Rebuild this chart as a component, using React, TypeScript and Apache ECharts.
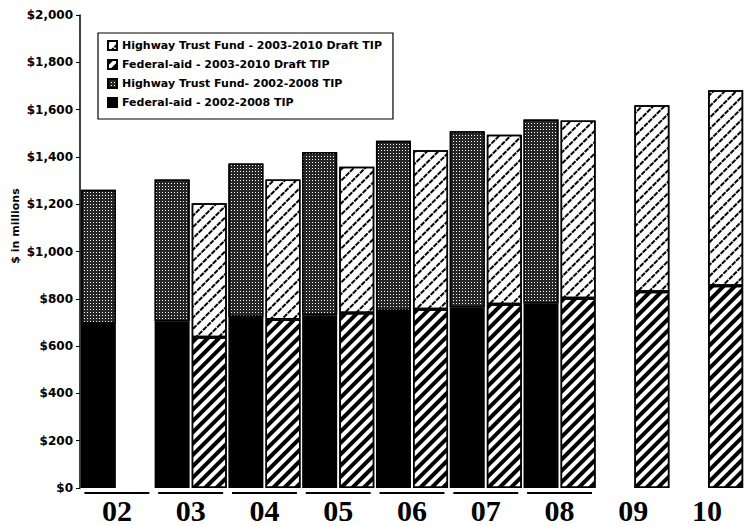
import React, { useEffect, useRef } from "react";
import * as echarts from "echarts";

const years = ["02", "03", "04", "05", "06", "07", "08", "09", "10"];
const underlinedYears = ["02", "03", "04", "05", "06", "07", "08"];

// $ millions
const fedAidOld = [694, 704, 723, 730, 748, 763, 780, null, null];
const htfOld = [567, 600, 649, 691, 720, 745, 778, null, null];
const fedAidNew = [null, 637, 713, 740, 756, 777, 802, 830, 855];
const htfNew = [null, 567, 591, 618, 672, 717, 752, 788, 827];

const yTicks = { min: 0, max: 2000, interval: 200 };

const NAMES = {
  htfNew: "Highway Trust Fund - 2003-2010 Draft TIP",
  fedNew: "Federal-aid - 2003-2010 Draft TIP",
  htfOld: "Highway Trust Fund- 2002-2008 TIP",
  fedOld: "Federal-aid - 2002-2008 TIP",
};

export default function App() {
  const ref = useRef<HTMLDivElement>(null);

  useEffect(() => {
    if (!ref.current) return;
    const chart = echarts.init(ref.current, undefined, { renderer: "svg" });

    const border = { borderColor: "#000", borderWidth: 1.5 };

    const gridDecal = {
      symbol: "rect",
      symbolSize: 1,
      dashArrayX: [1, 2],
      dashArrayY: [1, 2],
      color: "#ffffff",
      rotation: 0,
    };
    const boldHatch = {
      symbol: "rect",
      symbolSize: 1,
      dashArrayX: [1, 0],
      dashArrayY: [3.2, 3.2],
      color: "#000000",
      rotation: -Math.PI / 4,
    };
    const lightHatch = {
      symbol: "rect",
      symbolSize: 1,
      dashArrayX: [5, 1],
      dashArrayY: [1.3, 5.2],
      color: "#000000",
      rotation: -Math.PI / 4,
    };

    const fmt = (v: number) => "$" + v.toLocaleString("en-US");

    chart.setOption({
      animation: false,
      backgroundColor: "#ffffff",
      grid: { left: 80, right: 2, top: 15, bottom: 38, containLabel: false },
      legend: {
        data: [NAMES.htfNew, NAMES.fedNew, NAMES.htfOld, NAMES.fedOld],
        orient: "vertical",
        left: 98,
        top: 33,
        itemWidth: 9,
        itemHeight: 9,
        itemGap: 6,
        padding: [6, 11, 10, 9],
        borderColor: "#000",
        borderWidth: 1.2,
        icon: "rect",
        textStyle: {
          fontFamily: "DejaVu Sans",
          fontWeight: "bold",
          fontSize: 11,
          lineHeight: 13,
          color: "#000",
        },
      },
      xAxis: {
        type: "category",
        data: years,
        axisLine: { show: false },
        axisTick: { show: false },
        axisLabel: {
          margin: 7,
          fontFamily: "Liberation Serif",
          fontWeight: "bold",
          fontSize: 30,
          color: "#000",
        },
      },
      yAxis: {
        type: "value",
        min: yTicks.min,
        max: yTicks.max,
        interval: yTicks.interval,
        splitLine: { show: false },
        axisLine: { show: true, lineStyle: { color: "#000", width: 1.5 } },
        axisTick: { show: true, length: 4, lineStyle: { color: "#000" } },
        axisLabel: {
          margin: 7,
          formatter: fmt,
          fontFamily: "DejaVu Sans",
          fontWeight: "bold",
          fontSize: 12,
          color: "#000",
        },
      },
      graphic: [
        {
          type: "text",
          x: 15,
          y: 226,
          rotation: Math.PI / 2,
          style: {
            text: "$ in millions",
            fontFamily: "DejaVu Sans",
            fontWeight: "bold",
            fontSize: 11,
            fill: "#000",
            align: "center",
            verticalAlign: "middle",
          },
        },
      ],
      series: [
        {
          name: NAMES.fedOld,
          type: "bar",
          stack: "old",
          barWidth: 35,
          barGap: "6%",
          barCategoryGap: "2%",
          data: fedAidOld,
          itemStyle: { color: "#000", ...border },
        },
        {
          name: NAMES.htfOld,
          type: "bar",
          stack: "old",
          data: htfOld,
          itemStyle: { color: "#262626", decal: gridDecal, ...border },
        },
        {
          name: NAMES.fedNew,
          type: "bar",
          stack: "new",
          barWidth: 35,
          data: fedAidNew,
          itemStyle: { color: "#fff", decal: boldHatch, ...border },
        },
        {
          name: NAMES.htfNew,
          type: "bar",
          stack: "new",
          data: htfNew,
          itemStyle: { color: "#fff", decal: lightHatch, ...border },
        },
        {
          type: "custom",
          name: "underline",
          data: underlinedYears.map((y) => [y, 0]),
          encode: { x: 0, y: 1 },
          silent: true,
          renderItem: (params: any, api: any) => {
            const p = api.coord([api.value(0), 0]);
            const w = api.size([1, 0])[0];
            return {
              type: "line",
              shape: { x1: p[0] - w * 0.44, y1: p[1] + 5, x2: p[0] + w * 0.44, y2: p[1] + 5 },
              style: { stroke: "#000", lineWidth: 2 },
            };
          },
        },
      ],
    });

    return () => chart.dispose();
  }, []);

  return (
    <div
      ref={ref}
      style={{ position: "absolute", left: 0, top: 0, width: 746, height: 526 }}
    />
  );
}
